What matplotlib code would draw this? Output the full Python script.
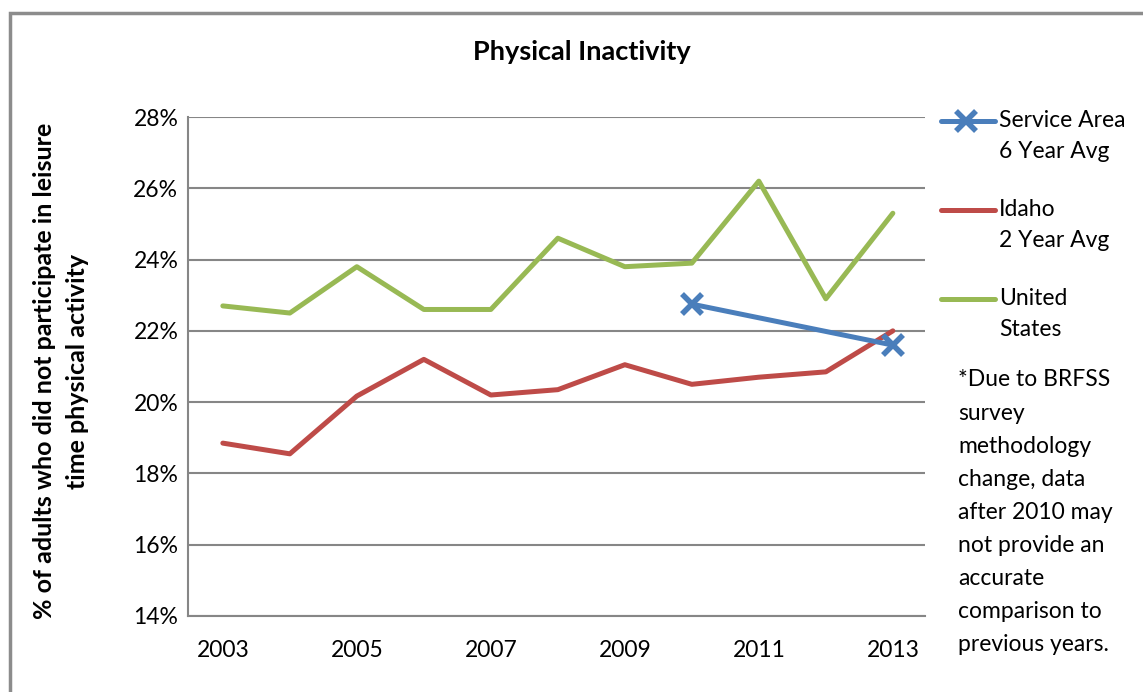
import matplotlib
matplotlib.use("Agg")
import matplotlib.pyplot as plt
from matplotlib.lines import Line2D
from matplotlib.patches import Rectangle

plt.rcParams['font.family'] = ['Lato', 'DejaVu Sans']

years = [2003, 2004, 2005, 2006, 2007, 2008, 2009, 2010, 2011, 2012, 2013]
service_years = [2010, 2013]
service_area = [22.75, 21.6]
idaho = [18.85, 18.55, 20.17, 21.2, 20.2, 20.35, 21.05, 20.5, 20.7, 20.85, 22.0]
united_states = [22.7, 22.5, 23.8, 22.6, 22.6, 24.6, 23.8, 23.9, 26.2, 22.9, 25.3]
xtick_labels = [2003, 2005, 2007, 2009, 2011, 2013]
ytick_values = [14, 16, 18, 20, 22, 24, 26, 28]

legend_labels = ["Service Area\n6 Year Avg", "Idaho\n2 Year Avg", "United\nStates"]
note_lines = ["*Due to BRFSS", "survey", "methodology", "change, data",
              "after 2010 may", "not provide an", "accurate",
              "comparison to", "previous years."]

c_blue = '#4A7EBB'
c_red = '#BE4B48'
c_green = '#98B954'
grid_c = '#868686'

W, H = 1143, 692
fig = plt.figure(figsize=(W / 100, H / 100), dpi=100)

# outer chart frame
fig.patches.append(Rectangle((10 / W, -0.05), 1.2, 1 - 12.5 / H + 0.05,
                             transform=fig.transFigure, fill=False,
                             edgecolor='#8c8c8c', linewidth=2.5))

ax = fig.add_axes([188 / W, 1 - 616 / H, (925 - 188) / W, (616 - 117) / H])

ax.plot(years, idaho, color=c_red, lw=3.6, solid_capstyle='round', zorder=3)
ax.plot(years, united_states, color=c_green, lw=3.6, solid_capstyle='round', zorder=3)
ax.plot(service_years, service_area, color=c_blue, lw=3.6, marker='x',
        markersize=14, markeredgewidth=4, solid_capstyle='round', zorder=4)

ax.set_xlim(2002.48, 2013.48)
ax.set_ylim(14, 28)
ax.set_yticks(ytick_values)
ax.set_yticklabels([f"{v}%" for v in ytick_values])
ax.set_xticks(xtick_labels)
ax.set_xticklabels([str(v) for v in xtick_labels])
ax.tick_params(axis='both', length=0, labelsize=16.5, colors='black')
ax.tick_params(axis='y', pad=7)
ax.tick_params(axis='x', pad=17)
ax.grid(axis='y', color=grid_c, lw=1.5, zorder=0)
ax.set_axisbelow(True)
for s in ['top', 'right']:
    ax.spines[s].set_visible(False)
for s in ['left', 'bottom']:
    ax.spines[s].set_color(grid_c)
    ax.spines[s].set_linewidth(1.5)

fig.text(582 / W, 1 - 52 / H, "Physical Inactivity", ha='center', va='center',
         fontsize=19.5, fontweight='bold')
fig.text(61 / W, 1 - 371 / H,
         "% of adults who did not participate in leisure\ntime physical activity",
         ha='center', va='center', rotation=90, fontsize=18, fontweight='bold',
         linespacing=1.5)

# legend (manual)
leg_y = [121, 210, 299]
colors = [c_blue, c_red, c_green]
for i, (lab, col) in enumerate(zip(legend_labels, colors)):
    y = 1 - leg_y[i] / H
    line = Line2D([941 / W, 995 / W], [y, y], transform=fig.transFigure,
                  color=col, lw=3.6, solid_capstyle='round')
    fig.lines.append(line)
    if i == 0:
        fig.lines.append(Line2D([966 / W], [y], transform=fig.transFigure,
                                color=col, marker='x', markersize=14,
                                markeredgewidth=4, linestyle='none'))
    fig.text(999 / W, y + 11 / H, lab, ha='left', va='top', fontsize=16.5,
             linespacing=1.6)

for j, t in enumerate(note_lines):
    fig.text(958 / W, 1 - (380 + j * 33.1) / H, t, ha='left', va='center',
             fontsize=16.5)

fig.savefig("out.png", dpi=100)
